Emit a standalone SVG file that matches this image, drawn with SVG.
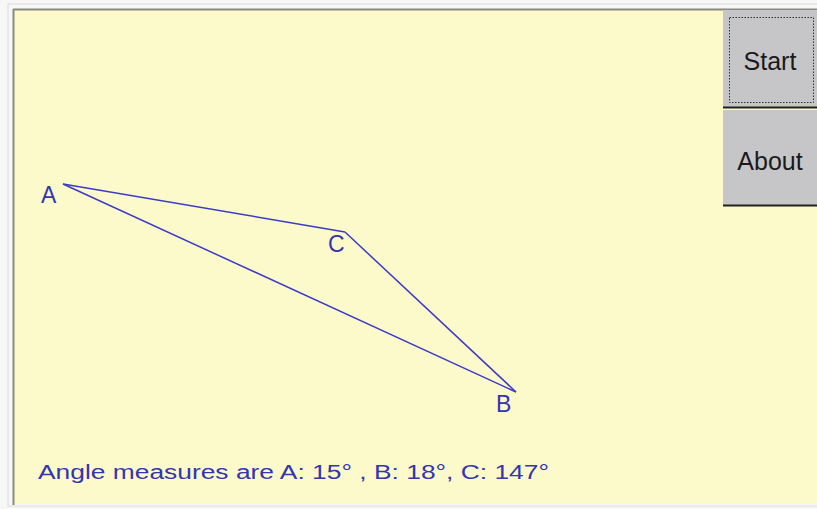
<svg xmlns="http://www.w3.org/2000/svg" width="817" height="509" viewBox="0 0 817 509">
<style>
.lbl{font-family:"Liberation Sans",Arial,sans-serif;fill:#3535b0;}
.btn{fill:#c6c6c8;}
.btxt{font-family:"Liberation Sans",Arial,sans-serif;font-size:25px;fill:#1a1a1a;text-anchor:middle;}
.edge{stroke:#3b3bc8;stroke-width:1.5;fill:none;}
</style>
<rect x="0" y="0" width="817" height="509" fill="#f7f7f7"/>
<rect x="8" y="4" width="812" height="502" fill="none" stroke="#dcdcdc" stroke-width="1"/>
<rect x="13" y="9" width="804" height="495" fill="#fcfacb"/>
<line x1="13.5" y1="9" x2="13.5" y2="505" stroke="#8a8a80" stroke-width="2"/>
<line x1="13" y1="9.5" x2="817" y2="9.5" stroke="#8a8a80" stroke-width="2"/>
<g id="connectors">
<line class="edge" x1="63" y1="184" x2="345" y2="232"/>
<line class="edge" x1="345" y1="232" x2="516" y2="392"/>
<line class="edge" x1="63" y1="184" x2="516" y2="392"/>
</g>
<g id="A"><text class="lbl" x="41" y="203" font-size="23">A</text></g>
<g id="C"><text class="lbl" x="328" y="252" font-size="23">C</text></g>
<g id="B"><text class="lbl" x="496" y="412" font-size="23">B</text></g>
<g id="start">
<rect class="btn" x="723" y="10" width="94" height="97"/>
<line x1="723" y1="107.5" x2="817" y2="107.5" stroke="#202020" stroke-width="2"/>
<rect x="729.5" y="17.5" width="84" height="85" fill="none" stroke="#333" stroke-width="1" stroke-dasharray="1.5,1.5"/>
<text class="btxt" x="770" y="70">Start</text>
</g>
<g id="about">
<rect class="btn" x="723" y="110" width="94" height="95"/>
<line x1="723" y1="205.5" x2="817" y2="205.5" stroke="#202020" stroke-width="2"/>
<text class="btxt" x="770" y="170">About</text>
</g>
<g id="status">
<text class="lbl" x="38" y="479" font-size="20" textLength="511" lengthAdjust="spacingAndGlyphs">Angle measures are A: 15° , B: 18°, C: 147°</text>
</g>
</svg>
